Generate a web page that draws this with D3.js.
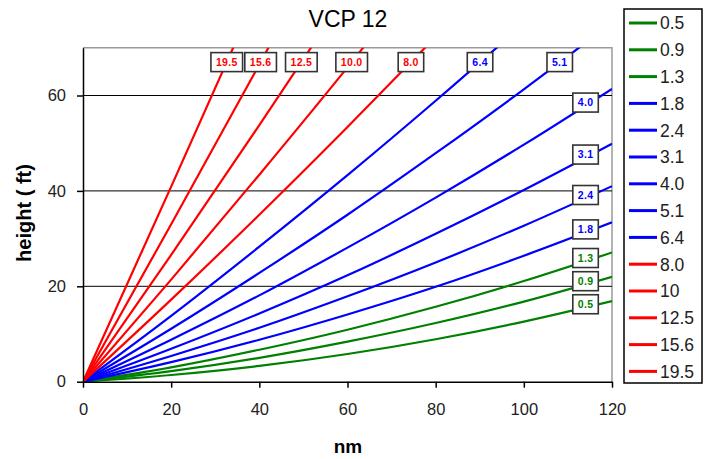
<!DOCTYPE html>
<html>
<head>
<meta charset="utf-8">
<script src="https://cdn.jsdelivr.net/npm/d3@7"></script>
<style>
    body { margin: 0; background: #fff; }
    svg { display: block; font-family: Arial, "Liberation Sans", sans-serif; }
</style>
</head>
<body>
<svg id="chart" width="707" height="459"></svg>
<script>
// elevation angles (deg), as shown in legend and on the line labels
const elevations = [0.5, 0.9, 1.3, 1.8, 2.4, 3.1, 4.0, 5.1, 6.4, 8.0, 10, 12.5, 15.6, 19.5];
const legendLabels = ['0.5', '0.9', '1.3', '1.8', '2.4', '3.1', '4.0', '5.1', '6.4', '8.0', '10', '12.5', '15.6', '19.5'];
const lineLabels = ['0.5', '0.9', '1.3', '1.8', '2.4', '3.1', '4.0', '5.1', '6.4', '8.0', '10.0', '12.5', '15.6', '19.5'];

// range (nm) where heights were read
const ranges = [0, 20, 40, 60, 80, 100, 120];

// beam height at each range, one row per elevation
const heights = [
    [0, 1.4, 3.3, 5.8, 8.9, 12.6, 16.9],
    [0, 2.2, 5.0, 8.4, 12.3, 16.8, 22.0],
    [0, 3.0, 6.7, 10.9, 15.7, 21.1, 27.1],
    [0, 4.1, 8.8, 14.1, 19.9, 26.4, 33.4],
    [0, 5.4, 11.3, 17.9, 25.0, 32.7, 41.0],
    [0, 6.9, 14.3, 22.3, 31.0, 40.2, 49.9],
    [0, 8.8, 18.1, 28.1, 38.6, 49.7, 61.4],
    [0, 11.1, 22.8, 35.0, 47.9, 61.3, 75.3],
    [0, 13.8, 28.3, 43.3, 58.9, 75.0],
    [0, 17.2, 35.0, 53.4, 72.3],
    [0, 21.4, 43.4, 65.9, 89.1],
    [0, 26.6, 53.8, 81.5],
    [0, 33.0, 66.5, 100.7],
    [0, 40.9, 82.3]
];

const xTicks = [0, 20, 40, 60, 80, 100, 120];
const yTicks = [0, 20, 40, 60];

const svg = d3.select('#chart');

const x = d3.scaleLinear().domain([0, 120]).range([83, 612]);
const y = d3.scaleLinear().domain([0, 70]).range([381.7, 47.8]);
const colour = d3.scaleThreshold().domain([1.5, 7]).range(['#008000', '#0000ff', '#ff0000']);

const series = elevations.map((el, i) => ({
    el: el,
    label: lineLabels[i],
    points: heights[i].map((h, j) => [ranges[j], h])
}));

// title
svg.append('text')
    .attr('x', 348).attr('y', 27)
    .attr('text-anchor', 'middle')
    .style('font-size', '23px')
    .text('VCP 12');

// plot frame (top and right in grey)
svg.append('path')
    .attr('d', `M${x(0)},${y(70)}H${x(120)}V${y(0)}`)
    .attr('fill', 'none')
    .attr('stroke', '#9a9a9a')
    .attr('stroke-width', 1.5);

// gridlines
svg.append('g')
    .selectAll('line')
    .data(yTicks.filter(d => d > 0))
    .enter().append('line')
    .attr('x1', x(0)).attr('x2', x(120))
    .attr('y1', d => y(d)).attr('y2', d => y(d))
    .attr('stroke', '#000')
    .attr('stroke-width', 1);

svg.append('clipPath').attr('id', 'plotClip')
    .append('rect')
    .attr('x', x(0)).attr('y', y(70))
    .attr('width', x(120) - x(0)).attr('height', y(0) - y(70));

const line = d3.line()
    .x(d => x(d[0]))
    .y(d => y(d[1]))
    .curve(d3.curveMonotoneX);

svg.append('g')
    .attr('clip-path', 'url(#plotClip)')
    .selectAll('path')
    .data(series)
    .enter().append('path')
    .attr('d', d => line(d.points))
    .attr('fill', 'none')
    .attr('stroke', d => colour(d.el))
    .attr('stroke-width', 2.2);

// axes
const xAxis = svg.append('g')
    .attr('transform', `translate(0,${y(0)})`)
    .call(d3.axisBottom(x).tickValues(xTicks).tickSize(6).tickSizeOuter(0).tickPadding(16));
const yAxis = svg.append('g')
    .attr('transform', `translate(${x(0)},0)`)
    .call(d3.axisLeft(y).tickValues(yTicks).tickSize(6).tickSizeOuter(0).tickPadding(11));
[xAxis, yAxis].forEach(a => {
    a.selectAll('path, line').attr('stroke', '#000').attr('stroke-width', 1.5);
    a.selectAll('text').attr('fill', '#222').style('font-size', '16.5px').style('font-family', 'Arial, "Liberation Sans", sans-serif');
});

// axis titles
svg.append('text')
    .attr('x', 348).attr('y', 453)
    .attr('text-anchor', 'middle')
    .style('font-size', '19px').style('font-weight', 'bold')
    .text('nm');
svg.append('text')
    .attr('transform', 'translate(31,213) rotate(-90)')
    .attr('text-anchor', 'middle')
    .style('font-size', '20px').style('font-weight', 'bold')
    .text('height ( ft)');

// line labels: at the top edge for steep beams, near the right edge for the rest
function rangeAt(pts, h) {
    for (let i = 1; i < pts.length; i++) {
        if (pts[i][1] >= h) {
            const t = (h - pts[i - 1][1]) / (pts[i][1] - pts[i - 1][1]);
            return pts[i - 1][0] + t * (pts[i][0] - pts[i - 1][0]);
        }
    }
    return null;
}
function heightAt(pts, r) {
    for (let i = 1; i < pts.length; i++) {
        if (pts[i][0] >= r) {
            const t = (r - pts[i - 1][0]) / (pts[i][0] - pts[i - 1][0]);
            return pts[i - 1][1] + t * (pts[i][1] - pts[i - 1][1]);
        }
    }
    return null;
}

const labelG = svg.append('g')
    .selectAll('g')
    .data(series)
    .enter().append('g')
    .attr('transform', d => {
        const r = rangeAt(d.points, 67);
        if (r !== null && r < 114) return `translate(${x(r)},${y(67)})`;
        return `translate(${x(114)},${y(heightAt(d.points, 114)) - 3})`;
    });

labelG.append('text')
    .attr('text-anchor', 'middle')
    .attr('dy', '0.36em')
    .attr('fill', d => colour(d.el))
    .style('font-size', '10.5px').style('font-weight', 'bold')
    .style('letter-spacing', '0.3px')
    .text(d => d.label);

labelG.each(function () {
    const g = d3.select(this);
    const w = g.select('text').node().getBBox().width + 10;
    g.insert('rect', 'text')
        .attr('x', -w / 2).attr('y', -9.5)
        .attr('width', w).attr('height', 19)
        .attr('fill', '#fff')
        .attr('stroke', '#333')
        .attr('stroke-width', 1.6);
});

// legend
svg.append('rect')
    .attr('x', 624).attr('y', 9)
    .attr('width', 78).attr('height', 374)
    .attr('fill', '#fff')
    .attr('stroke', '#000')
    .attr('stroke-width', 1.5);

const legendItem = svg.append('g')
    .selectAll('g')
    .data(elevations)
    .enter().append('g')
    .attr('transform', (d, i) => `translate(0,${23 + i * 26.8})`);

legendItem.append('line')
    .attr('x1', 629).attr('x2', 657)
    .attr('stroke', d => colour(d))
    .attr('stroke-width', 3);

legendItem.append('text')
    .attr('x', 660)
    .attr('dy', '0.36em')
    .attr('fill', '#222')
    .style('font-size', '17.5px')
    .text((d, i) => legendLabels[i]);
</script>
</body>
</html>
